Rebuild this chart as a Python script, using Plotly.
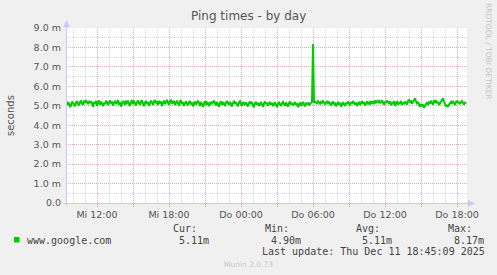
import pandas as pd
import plotly.graph_objects as go

# ---------------- data (ping time in milliseconds, 5-minute samples) ----------------
start_time = "2025-12-10 09:30"
ping_ms = [
    5.02, 5.19, 5.12, 4.96, 5.00, 5.21, 5.15, 5.06, 4.97, 5.16, 5.24, 5.09,
    5.01, 5.20, 5.27, 5.13, 5.04, 5.23, 5.18, 5.26, 5.20, 5.08, 5.25, 5.14,
    5.24, 5.11, 4.95, 5.19, 5.10, 5.25, 5.00, 5.18, 5.27, 5.05, 5.21, 5.13,
    4.98, 5.16, 5.08, 5.26, 5.19, 5.04, 5.23, 5.28, 5.12, 5.22, 5.01, 5.17,
    5.26, 5.09, 5.20, 5.29, 5.05, 5.19, 4.96, 5.13, 5.25, 5.17, 5.04, 5.26,
    5.15, 5.22, 5.11, 4.99, 5.20, 5.28, 5.09, 5.23, 5.17, 5.01, 5.19, 5.27,
    5.13, 5.06, 5.22, 5.29, 5.10, 4.98, 5.17, 5.25, 5.09, 5.20, 5.00, 5.15,
    5.26, 5.17, 5.04, 5.23, 5.29, 5.13, 5.19, 5.05, 5.25, 5.11, 5.22, 4.99,
    5.20, 5.27, 5.09, 5.17, 5.30, 5.15, 5.05, 5.23, 5.28, 5.11, 5.19, 5.25,
    5.04, 5.17, 5.26, 5.13, 5.00, 5.22, 5.29, 5.09, 5.20, 4.99, 5.15, 5.23,
    5.11, 5.02, 5.19, 5.25, 5.06, 5.17, 4.97, 5.13, 5.22, 5.07, 5.19, 5.26,
    5.15, 4.99, 5.20, 5.09, 4.94, 5.13, 5.23, 5.04, 5.17, 5.11, 4.98, 5.19,
    5.07, 5.22, 5.13, 5.26, 5.17, 5.02, 5.20, 5.11, 4.95, 5.15, 5.23, 5.06,
    5.19, 5.09, 4.99, 5.17, 5.25, 5.13, 5.04, 5.20, 5.09, 4.96, 5.15, 5.22,
    5.11, 5.19, 5.06, 4.98, 5.17, 5.23, 5.09, 5.00, 5.20, 5.13, 5.04, 5.17,
    5.07, 4.96, 5.15, 5.22, 5.09, 5.19, 5.02, 4.93, 5.13, 5.20, 5.06, 5.15,
    4.99, 5.11, 5.19, 5.06, 4.95, 5.13, 5.22, 5.09, 5.17, 5.01, 5.11, 5.20,
    5.06, 5.15, 4.98, 5.09, 5.19, 5.04, 4.92, 5.11, 5.17, 5.07, 4.99, 5.13,
    5.20, 5.09, 5.01, 5.17, 5.06, 4.96, 5.13, 5.22, 5.07, 5.15, 5.02, 5.11,
    5.19, 5.04, 5.13, 4.93, 5.09, 5.17, 4.99, 5.11, 5.20, 5.06, 4.97, 5.15,
    5.07, 5.17, 5.02, 5.11, 5.15, 5.20, 8.17, 5.17, 5.22, 5.19, 5.13, 5.24,
    5.17, 5.11, 5.20, 5.15, 5.24, 5.19, 5.09, 5.17, 5.22, 5.13, 5.19, 5.11,
    5.02, 5.15, 5.22, 5.07, 5.17, 4.97, 5.11, 5.20, 5.06, 5.15, 4.95, 5.13,
    5.19, 5.07, 4.99, 5.17, 5.09, 5.22, 5.13, 5.02, 5.19, 5.11, 5.24, 5.15,
    5.06, 5.17, 4.98, 5.11, 5.20, 5.04, 5.15, 5.24, 5.09, 5.19, 5.01, 5.13,
    5.22, 5.11, 5.17, 5.06, 5.25, 5.15, 5.20, 5.09, 5.27, 5.17, 5.24, 5.19,
    5.25, 5.13, 5.20, 5.28, 5.17, 5.06, 5.22, 5.15, 5.27, 5.20, 5.11, 5.24,
    5.02, 5.17, 5.09, 5.24, 4.99, 5.15, 5.20, 5.06, 5.19, 5.11, 5.25, 5.04,
    5.17, 5.09, 5.22, 5.13, 5.06, 5.26, 5.30, 5.20, 5.24, 5.11, 5.19, 5.28,
    5.38, 5.24, 5.13, 5.20, 5.02, 4.94, 5.09, 4.97, 5.06, 4.90, 5.01, 5.09,
    5.17, 5.04, 5.22, 5.11, 5.26, 5.15, 5.06, 5.24, 5.19, 5.28, 5.13, 5.20,
    5.04, 5.13, 5.20, 5.28, 5.38, 5.22, 5.07, 4.96, 5.04, 4.94, 5.06, 5.17,
    5.20, 5.11, 5.24, 5.15, 5.04, 5.19, 5.26, 5.13, 5.22, 5.09, 5.17, 5.25,
    5.15, 5.06, 5.19, 5.11,
]
times = pd.date_range(start_time, periods=len(ping_ms), freq="5min")

x_range = ["2025-12-10 09:25", "2025-12-11 18:50"]
x_tickvals = pd.date_range("2025-12-10 12:00", "2025-12-11 18:00", freq="3h")
x_ticktext = ["Mi 12:00", "", "Mi 18:00", "", "Do 00:00", "", "Do 06:00", "",
              "Do 12:00", "", "Do 18:00"]
y_tickvals = [0, 1, 2, 3, 4, 5, 6, 7, 8, 9]
y_ticktext = ["0.0", "1.0 m", "2.0 m", "3.0 m", "4.0 m", "5.0 m", "6.0 m",
              "7.0 m", "8.0 m", "9.0 m"]

series_name = "www.google.com"
stat_labels = ["Cur:", "Min:", "Avg:", "Max:"]
stat_values = ["5.11m", "4.90m", "5.11m", "8.17m"]
last_update = "Last update: Thu Dec 11 18:45:09 2025"

# ---------------- layout geometry (pixels) ----------------
W, H = 497, 275
L, R, T, B = 66, 30, 28, 72
PW, PH = W - L - R, H - T - B


def px(x):
    return (x - L) / PW


def py(y):
    return (H - B - y) / PH


GREEN = "#00CC00"
MAJOR = "rgba(232,150,150,0.7)"
MINOR = "rgba(200,200,200,0.75)"
AXIS = "#C8C8F4"
TXT = "#444444"

fig = go.Figure()
fig.add_trace(go.Scatter(x=times, y=ping_ms, mode="lines",
                         line=dict(color=GREEN, width=2), showlegend=False))

fig.update_layout(
    width=W, height=H,
    margin=dict(l=L, r=R, t=T, b=B, pad=0),
    paper_bgcolor="#F0F0F0", plot_bgcolor="#FFFFFF",
    font=dict(family="DejaVu Sans", color=TXT),
    showlegend=False,
)
fig.update_xaxes(
    type="date", range=x_range, tickmode="array",
    tickvals=x_tickvals, ticktext=x_ticktext,
    showgrid=True, gridcolor=MAJOR, griddash="1px,1px", gridwidth=1,
    ticks="outside", ticklen=3, tickcolor=MAJOR,
    tickfont=dict(family="DejaVu Sans", size=9.5, color="#555555"),
    showline=False, zeroline=False,
    minor=dict(tick0="2025-12-10 00:00", dtick=3600000, showgrid=True,
               gridcolor=MINOR, griddash="1px,1px", gridwidth=1),
)
fig.update_yaxes(
    range=[0, 9], tickmode="array", tickvals=y_tickvals, ticktext=y_ticktext,
    showgrid=True, gridcolor=MAJOR, griddash="1px,1px", gridwidth=1,
    ticks="", ticklabelstandoff=4,
    tickfont=dict(family="DejaVu Sans", size=9.5, color="#555555"),
    showline=False, zeroline=False,
    minor=dict(dtick=0.5, showgrid=True, gridcolor=MINOR,
               griddash="1px,1px", gridwidth=1),
)

# axis lines with arrows (rrdtool style)
shapes = [
    dict(type="line", xref="paper", yref="paper", x0=px(66.5), x1=px(66.5),
         y0=py(206), y1=py(25), line=dict(color=AXIS, width=1)),
    dict(type="line", xref="paper", yref="paper", x0=px(63), x1=px(469),
         y0=py(203.5), y1=py(203.5), line=dict(color=AXIS, width=1)),
    dict(type="path", xref="paper", yref="paper",
         path=f"M {px(63.5)} {py(27)} L {px(69.5)} {py(27)} L {px(66.5)} {py(20.5)} Z",
         fillcolor=AXIS, line=dict(color=AXIS, width=0.5)),
    dict(type="path", xref="paper", yref="paper",
         path=f"M {px(468)} {py(200.5)} L {px(468)} {py(206.5)} L {px(474.5)} {py(203.5)} Z",
         fillcolor=AXIS, line=dict(color=AXIS, width=0.5)),
    # legend colour box
    dict(type="rect", xref="paper", yref="paper", x0=px(14), x1=px(19.5),
         y0=py(242.5), y1=py(237), fillcolor=GREEN, line=dict(width=0)),
]
fig.update_layout(shapes=shapes)

ann = []


def text(s, x, y, size=10, family="DejaVu Sans Mono", color=TXT,
         xanchor="left", angle=0):
    ann.append(dict(text=s, x=px(x), y=py(y), xref="paper", yref="paper",
                    xanchor=xanchor, yanchor="middle", showarrow=False,
                    textangle=angle, borderpad=0,
                    font=dict(family=family, size=size, color=color)))


text("Ping times - by day", 248, 16, size=12, family="DejaVu Sans",
     color="#555555", xanchor="center")
text("seconds", 10, 116, size=10, family="DejaVu Sans", color="#555555",
     xanchor="center", angle=-90)
text("RRDTOOL / TOBI OETIKER", 489, 52, size=7.5, family="DejaVu Sans",
     color="#C4C4C4", xanchor="center", angle=90)
text(series_name, 25.5, 240)
stat_x = [172, 264, 355, 447]
for lab, val, sx in zip(stat_labels, stat_values, stat_x):
    text(lab, sx, 228)
    text(val, sx + 6, 240)
text(last_update, 261, 251.5)
text("Munin 2.0.73", 223, 264, size=7.5, family="DejaVu Sans",
     color="#C8C8C8")
fig.update_layout(annotations=ann)

fig.write_html("out.html")
